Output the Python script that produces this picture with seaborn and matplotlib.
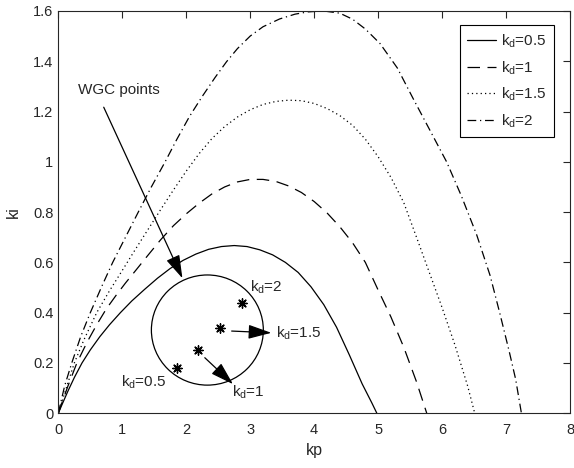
import pandas as pd
import matplotlib
matplotlib.use("Agg")
import matplotlib.pyplot as plt
import seaborn as sns
from matplotlib.patches import Ellipse
from matplotlib.lines import Line2D

# Stability boundary curves
kp_05 = [0, 0.05, 0.15, 0.25, 0.37, 0.5, 0.65, 0.8, 0.97, 1.15, 1.35, 1.55, 1.75, 1.95, 2.15,
         2.35, 2.55, 2.75, 2.95, 3.15, 3.35, 3.55, 3.75, 3.95, 4.15, 4.35, 4.55, 4.75, 4.9, 4.98]
ki_05 = [0, 0.03, 0.088, 0.142, 0.2, 0.252, 0.305, 0.352, 0.4, 0.447, 0.493, 0.537, 0.576, 0.608, 0.633,
         0.652, 0.663, 0.667, 0.663, 0.65, 0.63, 0.6, 0.56, 0.503, 0.432, 0.342, 0.232, 0.117, 0.042, 0]

kp_1 = [0, 0.05, 0.15, 0.29, 0.45, 0.6, 0.75, 0.9, 1.05, 1.2, 1.4, 1.6, 1.8, 2.0, 2.2, 2.4, 2.6,
        2.8, 3.0, 3.2, 3.4, 3.6, 3.8, 4.0, 4.2, 4.4, 4.6, 4.8, 5.0, 5.2, 5.4, 5.6, 5.76]
ki_1 = [0, 0.037, 0.108, 0.2, 0.283, 0.352, 0.415, 0.468, 0.518, 0.565, 0.628, 0.69, 0.746, 0.793, 0.835, 0.872, 0.9,
        0.92, 0.93, 0.93, 0.922, 0.904, 0.878, 0.842, 0.797, 0.742, 0.678, 0.6, 0.49, 0.383, 0.263, 0.125, 0]

kp_15 = [0, 0.05, 0.13, 0.25, 0.4, 0.6, 0.8, 1.0, 1.2, 1.4, 1.6, 1.8, 2.0, 2.2, 2.4, 2.6, 2.8, 3.0,
         3.2, 3.4, 3.6, 3.8, 4.0, 4.2, 4.4, 4.6, 4.8, 5.0, 5.2, 5.4, 5.6, 5.8, 6.0, 6.2, 6.4, 6.51]
ki_15 = [0, 0.04, 0.105, 0.2, 0.292, 0.4, 0.487, 0.568, 0.65, 0.73, 0.81, 0.888, 0.963, 1.032, 1.092, 1.14, 1.178, 1.207,
         1.228, 1.24, 1.245, 1.243, 1.232, 1.212, 1.184, 1.145, 1.09, 1.02, 0.938, 0.838, 0.7, 0.56, 0.42, 0.272, 0.108, 0]

kp_2 = [0, 0.04, 0.1, 0.21, 0.35, 0.5, 0.68, 0.85, 1.05, 1.25, 1.45, 1.67, 1.85, 2.05, 2.25, 2.45, 2.63, 2.8, 3.0,
        3.2, 3.46, 3.7, 3.9, 4.14, 4.4, 4.6, 4.8, 5.03, 5.3, 5.55, 5.8, 6.07, 6.3, 6.54, 6.75, 6.9, 7.05, 7.15, 7.24]
ki_2 = [0, 0.045, 0.11, 0.2, 0.305, 0.4, 0.505, 0.6, 0.7, 0.8, 0.898, 1.0, 1.088, 1.18, 1.26, 1.335, 1.398, 1.45, 1.5,
        1.537, 1.568, 1.587, 1.596, 1.6, 1.591, 1.567, 1.528, 1.47, 1.373, 1.25, 1.13, 1.0, 0.865, 0.71, 0.548, 0.4, 0.245, 0.135, 0]

curve_names = ["$k_d$=0.5", "$k_d$=1", "$k_d$=1.5", "$k_d$=2"]

# WGC points
wgc_kp = [1.85, 2.18, 2.52, 2.87]
wgc_ki = [0.179, 0.252, 0.338, 0.44]

# circle around the WGC points (centre, full width, full height)
ring_center = (2.33, 0.331)
ring_size = (1.75, 0.438)

frames = []
for name, xs, ys in zip(curve_names, [kp_05, kp_1, kp_15, kp_2], [ki_05, ki_1, ki_15, ki_2]):
    frames.append(pd.DataFrame({"kp": xs, "ki": ys, "curve": name}))
df = pd.concat(frames, ignore_index=True)

sns.set_style("white")
plt.rcParams["font.family"] = ["Liberation Sans", "DejaVu Sans"]
plt.rcParams["mathtext.fontset"] = "custom"
plt.rcParams["mathtext.rm"] = "Liberation Sans"
plt.rcParams["mathtext.it"] = "Liberation Sans"
plt.rcParams["font.size"] = 11

dash_map = {
    "$k_d$=0.5": "",
    "$k_d$=1": (10, 6),
    "$k_d$=1.5": (1, 2.5),
    "$k_d$=2": (7, 3, 1, 3),
}

fig = plt.figure(figsize=(5.74, 4.68), dpi=100)
ax = fig.add_axes([0.1016, 0.1169, 0.8915, 0.8598])

sns.lineplot(data=df, x="kp", y="ki", style="curve", dashes=dash_map,
             color="black", linewidth=0.9, estimator=None, sort=False,
             legend=False, ax=ax)

ax.add_patch(Ellipse(ring_center, ring_size[0], ring_size[1],
                     fill=False, edgecolor="black", linewidth=0.9))

sns.scatterplot(x=wgc_kp, y=wgc_ki, marker=(8, 2, 0), s=45, color="black",
                linewidth=1.0, ax=ax, legend=False)

arrow = dict(arrowstyle="-|>,head_length=1.3,head_width=0.4", color="black",
             lw=0.9, shrinkA=0, shrinkB=0)
ax.annotate("", xy=(1.94, 0.537), xytext=(0.71, 1.217), arrowprops=arrow)
ax.annotate("", xy=(2.73, 0.116), xytext=(2.29, 0.221), arrowprops=arrow)
ax.annotate("", xy=(3.33, 0.32), xytext=(2.71, 0.327), arrowprops=arrow)

ax.text(0.31, 1.285, "WGC points", fontsize=11, va="center")
ax.text(3.0, 0.5, "$k_d$=2", fontsize=11, va="center")
ax.text(3.4, 0.32, "$k_d$=1.5", fontsize=11, va="center")
ax.text(2.71, 0.085, "$k_d$=1", fontsize=11, va="center")
ax.text(0.98, 0.125, "$k_d$=0.5", fontsize=11, va="center")

ax.set_xlim(0, 8)
ax.set_ylim(0, 1.6)
ax.set_xticks(range(0, 9))
ax.set_yticks([0, 0.2, 0.4, 0.6, 0.8, 1, 1.2, 1.4, 1.6])
ax.set_yticklabels(["0", "0.2", "0.4", "0.6", "0.8", "1", "1.2", "1.4", "1.6"])
ax.set_xlabel("kp", fontsize=11.5, labelpad=4)
ax.set_ylabel("ki", fontsize=11.5, labelpad=9)

ax.tick_params(direction="in", length=5, width=0.8, top=True, right=True,
               colors="#262626", labelcolor="#262626", labelsize=10.5)
ax.tick_params(axis="x", pad=7)
for sp in ax.spines.values():
    sp.set_visible(True)
    sp.set_color("#262626")
    sp.set_linewidth(0.8)

handles = [Line2D([], [], color="black", lw=0.9, linestyle="-"),
           Line2D([], [], color="black", lw=0.9, dashes=(10, 6)),
           Line2D([], [], color="black", lw=0.9, dashes=(1, 2.5)),
           Line2D([], [], color="black", lw=0.9, dashes=(7, 3, 1, 3))]
leg = ax.legend(handles, curve_names, loc="upper right",
                bbox_to_anchor=(0.969, 0.965), borderaxespad=0, fancybox=False,
                framealpha=1, edgecolor="black", handlelength=1.9,
                handletextpad=0.3, labelspacing=0.6, borderpad=0.5, fontsize=11)
leg.get_frame().set_linewidth(0.8)

fig.savefig("out.png", dpi=100)
